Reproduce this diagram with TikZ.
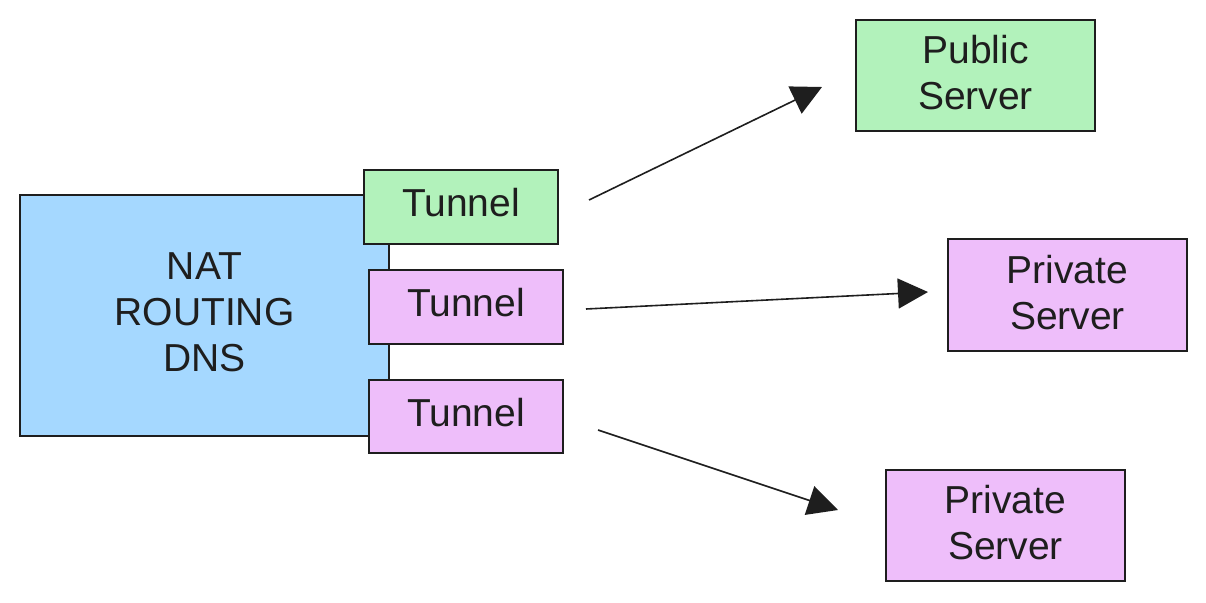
\documentclass[tikz,border=0pt]{standalone}
\usepackage{fontspec}
\setmainfont{Liberation Sans}
\usetikzlibrary{arrows.meta}
\definecolor{strk}{HTML}{1E1E1E}
\definecolor{bluef}{HTML}{A5D8FF}
\definecolor{greenf}{HTML}{B2F2BB}
\definecolor{purplef}{HTML}{EEBEFA}
\tikzset{
  box/.style={draw=strk, line width=1.6pt, rectangle, inner sep=0pt, align=center, text=strk,
    font=\fontsize{39}{46}\selectfont},
  lbl/.style={text=strk, align=center, inner sep=0pt, font=\fontsize{39}{46}\selectfont},
  conn/.style={draw=strk, line width=1.6pt, -{Triangle[length=30pt,width=30pt]}}
}
\begin{document}
\begin{tikzpicture}[x=1pt,y=-1pt]
\useasboundingbox (0,0) rectangle (1206,602);
\node[box, fill=bluef, minimum width=369pt, minimum height=241pt] (nat) at (204.5,315.5) {};
\node[lbl] (natt) at (204.5,312.5) {NAT\\ROUTING\\DNS};
\node[box, fill=greenf, minimum width=194pt, minimum height=74pt, text depth=9pt] (t1) at (461,207) {Tunnel};
\node[box, fill=purplef, minimum width=194pt, minimum height=74pt, text depth=9pt] (t2) at (466,307) {Tunnel};
\node[box, fill=purplef, minimum width=194pt, minimum height=73pt, text depth=9pt] (t3) at (466,416.5) {Tunnel};
\node[box, fill=greenf, minimum width=239pt, minimum height=111pt] (pub) at (975.5,75.5) {};
\node[lbl] (pubt) at (975.5,73) {Public\\Server};
\node[box, fill=purplef, minimum width=239pt, minimum height=112pt] (priv1) at (1067.5,295) {};
\node[lbl] (priv1t) at (1067.5,292.5) {Private\\Server};
\node[box, fill=purplef, minimum width=239pt, minimum height=111pt] (priv2) at (1005.5,525.5) {};
\node[lbl] (priv2t) at (1005.5,523) {Private\\Server};
\coordinate (s1) at (589,200);
\coordinate (e1) at (822,87);
\coordinate (s2) at (586,309);
\coordinate (e2) at (928,292);
\coordinate (s3) at (598,430);
\coordinate (e3) at (838,510);
\draw[conn] (s1) -- (e1);
\draw[conn] (s2) -- (e2);
\draw[conn] (s3) -- (e3);
\end{tikzpicture}
\end{document}
